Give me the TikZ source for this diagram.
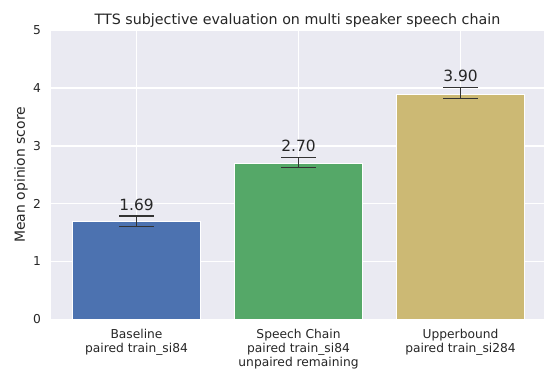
\documentclass[tikz,border=0pt]{standalone}
\usepackage{fontspec}
\setmainfont{DejaVu Sans}
\definecolor{bg}{HTML}{EAEAF2}
\definecolor{txt}{HTML}{262626}
\definecolor{cblue}{HTML}{4C72B0}
\definecolor{cgreen}{HTML}{55A868}
\definecolor{cgold}{HTML}{CCB974}
\definecolor{errc}{HTML}{333333}
\begin{document}
\begin{tikzpicture}[x=1bp,y=-1bp,
  gridline/.style={white,line width=1.3bp},
  barbox/.style={draw=white,line width=0.6bp},
  errline/.style={errc,line width=1.5bp},
  vallabel/.style={anchor=base,inner sep=0pt,text=txt,font=\fontsize{15.5}{18}\selectfont},
  ytick/.style={anchor=east,inner sep=0pt,text=txt,font=\fontsize{12.3}{14.3}\selectfont},
  xtick/.style={anchor=north,inner sep=0pt,align=center,text=txt,font=\fontsize{12.3}{14.3}\selectfont}]
\useasboundingbox (0,0) rectangle (544,369);
\fill[white] (0,0) rectangle (544,369);
% plot area
\fill[bg] (51,30.3) rectangle (544,319.3);
\foreach \y in {30.3,88.1,145.9,203.7,261.5,319.3}
  \draw[gridline] (51,\y) -- (544,\y);
\foreach \x in {136.5,298.5,460.5}
  \draw[gridline] (\x,30.3) -- (\x,319.3);
% bars
\draw[barbox,fill=cblue] (72.3,319.3) rectangle (200.7,221.6);
\draw[barbox,fill=cgreen] (234.3,319.3) rectangle (362.7,163.2);
\draw[barbox,fill=cgold] (396.3,319.3) rectangle (524.7,93.9);
% error bars
\draw[errline] (136.5,216) -- (136.5,226.3) (119,216) -- (154,216) (119,226.3) -- (154,226.3);
\draw[errline] (298.5,157.3) -- (298.5,167.3) (281,157.3) -- (316,157.3) (281,167.3) -- (316,167.3);
\draw[errline] (460.5,87.3) -- (460.5,98.7) (443,87.3) -- (478,87.3) (443,98.7) -- (478,98.7);
% value labels
\node[vallabel] (v1) at (136.5,210) {1.69};
\node[vallabel] (v2) at (298.5,151) {2.70};
\node[vallabel] (v3) at (460.5,81.7) {3.90};
% y ticks
\node[ytick] (y0) at (41,319.3) {0};
\node[ytick] (y1) at (41,261.5) {1};
\node[ytick] (y2) at (41,203.7) {2};
\node[ytick] (y3) at (41,145.9) {3};
\node[ytick] (y4) at (41,88.1) {4};
\node[ytick] (y5) at (41,30.3) {5};
% x ticks
\node[xtick] (x1) at (136.5,328.6) {Baseline\\paired train\_si84};
\node[xtick] (x2) at (298.5,328.6) {Speech Chain\\paired train\_si84\\unpaired remaining};
\node[xtick] (x3) at (460.5,328.6) {Upperbound\\paired train\_si284};
% title and axis label
\node[anchor=base,inner sep=0pt,text=txt,font=\fontsize{14.3}{17}\selectfont] (title) at (297.5,24) {TTS subjective evaluation on multi speaker speech chain};
\node[rotate=90,inner sep=0pt,text=txt,font=\fontsize{14}{17}\selectfont] (ylab) at (21,174.8) {Mean opinion score};
\end{tikzpicture}
\end{document}
